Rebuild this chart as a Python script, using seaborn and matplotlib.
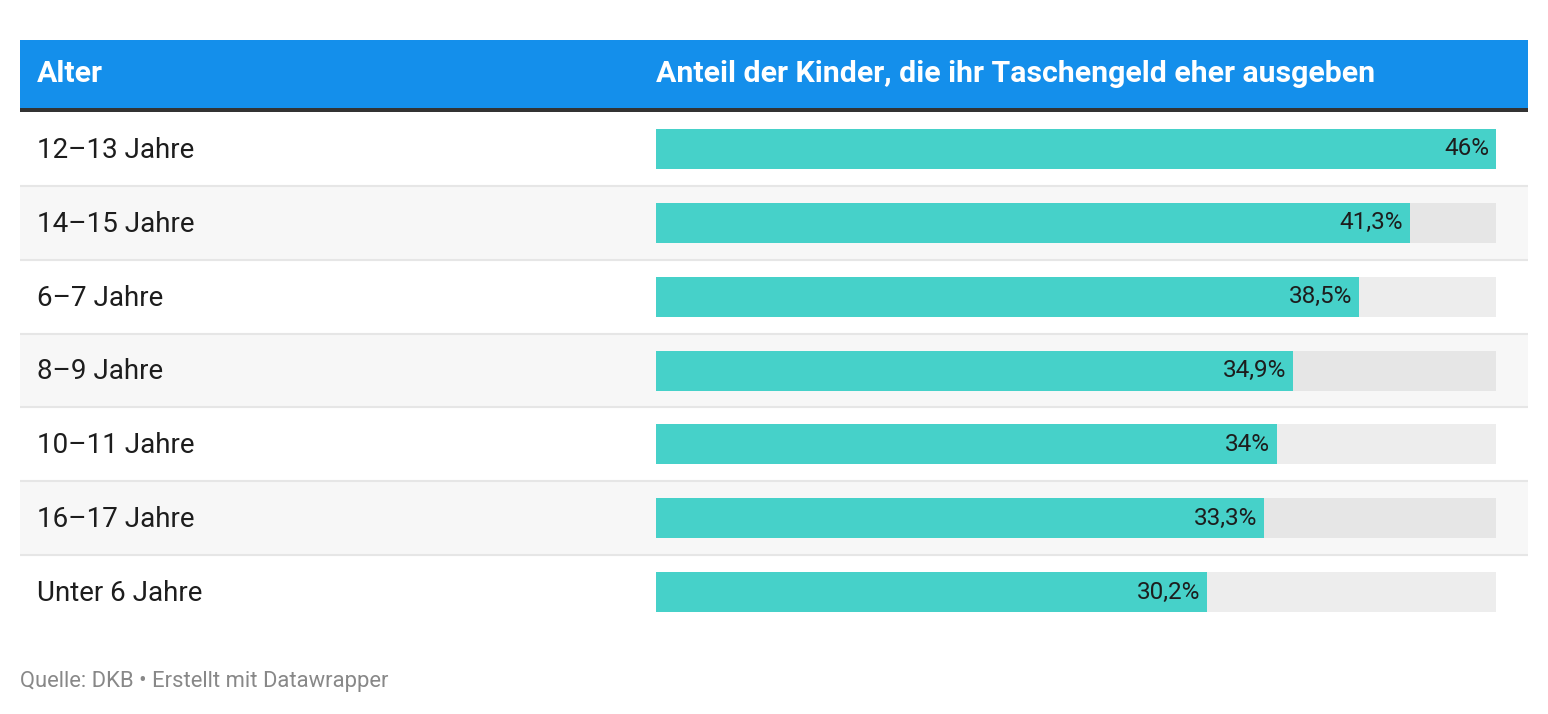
import matplotlib
matplotlib.use("Agg")
import matplotlib.pyplot as plt
import seaborn as sns
import pandas as pd
from matplotlib.patches import Rectangle

categories = ["12–13 Jahre", "14–15 Jahre", "6–7 Jahre", "8–9 Jahre",
              "10–11 Jahre", "16–17 Jahre", "Unter 6 Jahre"]
values = [46, 41.3, 38.5, 34.9, 34, 33.3, 30.2]
value_labels = ["46%", "41,3%", "38,5%", "34,9%", "34%", "33,3%", "30,2%"]
header_left = "Alter"
header_right = "Anteil der Kinder, die ihr Taschengeld eher ausgeben"
footer = "Quelle: DKB • Erstellt mit Datawrapper"

sns.set_theme(style="white")
plt.rcParams["font.family"] = ["Roboto", "DejaVu Sans"]

W, H = 1548, 714
fig = plt.figure(figsize=(W / 100, H / 100), dpi=100)
fig.patch.set_facecolor("white")

# pixel geometry
tab_l, tab_r = 20, 1528
bar_l, bar_r = 656, 1496
rows_top, rows_bot = 112, 629
vmax = max(values)
scale = (bar_r - bar_l) / vmax  # px per unit
xmin = (tab_l - bar_l) / scale
xmax = (tab_r - bar_l) / scale

ax = fig.add_axes([tab_l / W, 1 - rows_bot / H, (tab_r - tab_l) / W, (rows_bot - rows_top) / H])
n = len(categories)
row_h = (rows_bot - rows_top) / n

df = pd.DataFrame({"cat": categories, "val": values, "bg": [vmax] * n})
bar_w = 40 / row_h
sns.barplot(data=df, x="bg", y="cat", order=categories, color="#ededed",
            width=bar_w, ax=ax, zorder=2, saturation=1)
bg_bars = list(ax.containers[0])
for i, p in enumerate(bg_bars):
    p.set_facecolor("#e6e6e6" if i % 2 == 1 else "#ededed")
    p.set_edgecolor("none")
sns.barplot(data=df, x="val", y="cat", order=categories, color="#46d1c9",
            width=bar_w, ax=ax, zorder=3, saturation=1)
for p in ax.containers[1]:
    p.set_edgecolor("none")

# row stripes and separators
for i in range(n):
    if i % 2 == 1:
        ax.axhspan(i - 0.5, i + 0.5, color="#f7f7f7", zorder=0, lw=0)
for i in range(n - 1):
    ax.axhline(i + 0.5, color="#e6e6e6", lw=1.5, zorder=1)

pad = 7 / scale
for i, (v, lab) in enumerate(zip(values, value_labels)):
    ax.text(v - pad, i, lab, ha="right", va="center", fontsize=17.5,
            color="#1d1d1d", zorder=4)

lab_x = (37 - bar_l) / scale
for i, c in enumerate(categories):
    ax.text(lab_x, i + 0.02, c, ha="left", va="center", fontsize=20,
            color="#1d1d1d", zorder=4)

ax.set_xlim(xmin, xmax)
ax.set_ylim(n - 0.5, -0.5)
ax.set_axis_off()

# header
fig.patches.append(Rectangle((tab_l / W, 1 - 108 / H), (tab_r - tab_l) / W, 68 / H,
                             transform=fig.transFigure, facecolor="#148feb",
                             edgecolor="none", zorder=0))
fig.patches.append(Rectangle((tab_l / W, 1 - 112 / H), (tab_r - tab_l) / W, 4 / H,
                             transform=fig.transFigure, facecolor="#333333",
                             edgecolor="none", zorder=0))
fig.text(37 / W, 1 - 74 / H, header_left, ha="left", va="center", color="white",
         fontsize=21.8, fontweight="bold")
fig.text(bar_l / W, 1 - 74 / H, header_right, ha="left", va="center", color="white",
         fontsize=21.8, fontweight="bold")

fig.text(tab_l / W, 1 - 681 / H, footer, ha="left", va="center", color="#888888",
         fontsize=15.8)

fig.savefig("out.png", dpi=100, facecolor="white")
